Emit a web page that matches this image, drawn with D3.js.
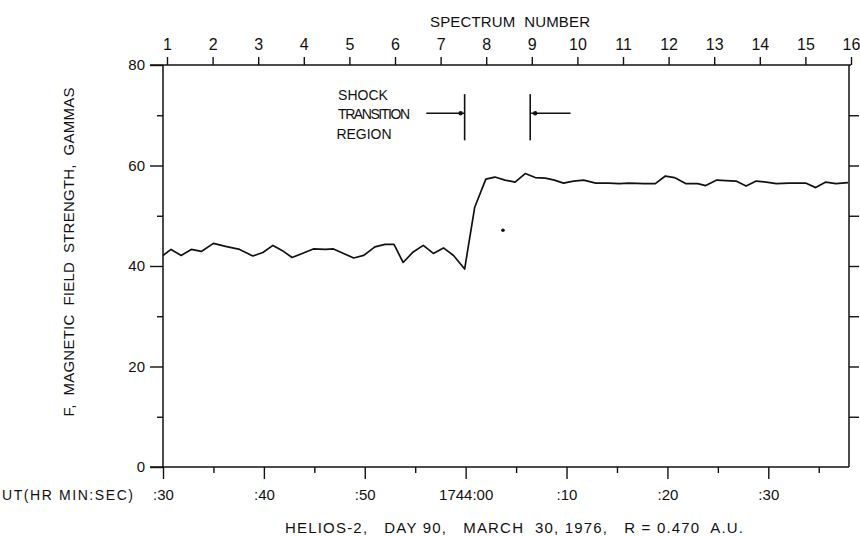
<!DOCTYPE html>
<html>
<head>
<meta charset="utf-8">
<script src="https://cdn.jsdelivr.net/npm/d3@7"></script>
<style>
  body { margin: 0; background: #fff; }
  svg { display: block; }
  text { font-family: "Liberation Sans", Arial, sans-serif; fill: #111; white-space: pre; }
</style>
</head>
<body>
<div id="chart"></div>
<script>
// seconds relative to 1744:00 UT
var times = [-30.0, -29.2, -28.2, -27.2, -26.2, -25.0, -23.8, -22.4, -21.1, -20.1,
  -19.1, -18.2, -17.2, -16.2, -15.1, -13.9, -13.1, -12.1, -11.1, -10.1,
  -9.0, -8.0, -7.1, -6.2, -5.2, -4.2, -3.2, -2.2, -1.2, -0.1,
  0.9, 2.0, 2.9, 3.9, 4.9, 5.9, 6.9, 7.9, 8.8, 9.7,
  10.7, 11.7, 12.9, 14.2, 15.2, 16.2, 17.7, 18.8, 19.8, 20.7,
  21.8, 23.0, 23.8, 24.9, 25.8, 26.8, 27.8, 28.8, 29.8, 30.8,
  32.1, 33.7, 34.7, 35.7, 36.7, 37.9];
// field strength, gammas
var field = [42.1, 43.3, 42.1, 43.3, 42.9, 44.5, 43.9, 43.3, 42.0, 42.7,
  44.1, 43.1, 41.7, 42.5, 43.4, 43.3, 43.4, 42.5, 41.6, 42.1,
  43.8, 44.3, 44.3, 40.7, 42.8, 44.1, 42.5, 43.6, 42.1, 39.4,
  51.7, 57.3, 57.7, 57.1, 56.7, 58.4, 57.6, 57.5, 57.1, 56.5,
  56.9, 57.1, 56.5, 56.5, 56.4, 56.5, 56.4, 56.4, 57.9, 57.6,
  56.4, 56.4, 56.0, 57.1, 57.0, 56.9, 55.9, 56.9, 56.7, 56.4,
  56.5, 56.5, 55.6, 56.7, 56.4, 56.6];

// lone point below the jump
var strayPoint = [3.7, 47.1];

// shock transition region boundaries (seconds) and arrow tails
var shockStart = -0.1, shockEnd = 6.4;
var arrowTails = [-3.9, 10.4];
var arrowLevel = 70.4, barTop = 74.2, barBottom = 65.0;

var yTicks = [0, 20, 40, 60, 80];
var yMinor = [10, 30, 50, 70];
var timeTicks = [-30, -20, -10, 0, 10, 20, 30];
var timeLabels = [":30", ":40", ":50", "1744:00", ":10", ":20", ":30"];
var timeMinor = [-25, -15, -5, 5, 15, 25, 35];
var spectra = d3.range(1, 17);

var width = 860, height = 536;
var svg = d3.select("#chart").append("svg")
    .attr("width", width)
    .attr("height", height);

var x = d3.scaleLinear().domain([-30, 38]).range([163, 849]);
var y = d3.scaleLinear().domain([0, 80]).range([467, 65]);
var spec = d3.scaleLinear().domain([1, 16]).range([167, 851]);

var ink = "#111";

function frameLine(x1, y1, x2, y2) {
    svg.append("line")
        .attr("x1", x1).attr("y1", y1).attr("x2", x2).attr("y2", y2)
        .attr("stroke", ink).attr("stroke-width", 1.5);
}

// frame
frameLine(x(-30), y(0), x(-30), y(80));
frameLine(x(38), y(0), x(38), y(80));
frameLine(150, y(0), x(38), y(0));
frameLine(150, y(80), spec(16), y(80));

function styleAxis(g) {
    g.select(".domain").remove();
    g.selectAll(".tick line").attr("stroke", ink).attr("stroke-width", 1.4);
    g.selectAll(".tick text").attr("fill", ink).style("font-family", "Liberation Sans, Arial, sans-serif");
}

// left axis
svg.append("g")
    .attr("transform", "translate(" + x(-30) + ",0)")
    .call(d3.axisLeft(y).tickValues(yTicks).tickSize(13).tickPadding(5))
    .call(styleAxis)
    .selectAll(".tick text").style("font-size", "15px");
svg.append("g")
    .attr("transform", "translate(" + x(-30) + ",0)")
    .call(d3.axisLeft(y).tickValues(yMinor).tickSize(6).tickFormat(""))
    .call(styleAxis);

// right axis ticks
svg.append("g")
    .attr("transform", "translate(" + x(38) + ",0)")
    .call(d3.axisRight(y).tickValues(yMinor.concat([20, 40, 60])).tickSize(10).tickFormat(""))
    .call(styleAxis);

// bottom time axis
svg.append("g")
    .attr("transform", "translate(0," + y(0) + ")")
    .call(d3.axisBottom(x).tickValues(timeTicks).tickSize(12).tickPadding(10)
        .tickFormat(function(d, i) { return timeLabels[i]; }))
    .call(styleAxis)
    .selectAll(".tick text").style("font-size", "15px");
svg.append("g")
    .attr("transform", "translate(0," + y(0) + ")")
    .call(d3.axisBottom(x).tickValues(timeMinor).tickSize(6).tickFormat(""))
    .call(styleAxis);

// top spectrum axis
svg.append("g")
    .attr("transform", "translate(0," + y(80) + ")")
    .call(d3.axisTop(spec).tickValues(spectra).tickSize(8).tickPadding(7))
    .call(styleAxis)
    .selectAll(".tick text").style("font-size", "16px");

// data line
var pts = times.map(function(t, i) { return [t, field[i]]; });
svg.append("path")
    .datum(pts)
    .attr("fill", "none")
    .attr("stroke", ink)
    .attr("stroke-width", 1.7)
    .attr("stroke-linejoin", "round")
    .attr("d", d3.line().x(function(d) { return x(d[0]); }).y(function(d) { return y(d[1]); }));

svg.append("circle")
    .attr("cx", x(strayPoint[0])).attr("cy", y(strayPoint[1]))
    .attr("r", 1.8).attr("fill", ink);

// shock transition markers
[shockStart, shockEnd].forEach(function(t, i) {
    svg.append("line")
        .attr("x1", x(t)).attr("x2", x(t))
        .attr("y1", y(barTop)).attr("y2", y(barBottom))
        .attr("stroke", ink).attr("stroke-width", 1.6);
    svg.append("line")
        .attr("x1", x(arrowTails[i])).attr("x2", x(t))
        .attr("y1", y(arrowLevel)).attr("y2", y(arrowLevel))
        .attr("stroke", ink).attr("stroke-width", 1.3);
    svg.append("circle")
        .attr("cx", x(t) + (i === 0 ? -4 : 5)).attr("cy", y(arrowLevel))
        .attr("r", 2.2).attr("fill", ink);
});

var note = svg.append("g").style("font-size", "14px");
note.append("text").attr("x", 363).attr("y", 100).attr("text-anchor", "middle").text("SHOCK");
note.append("text").attr("x", 338).attr("y", 119).attr("textLength", 72).text("TRANSITION");
note.append("text").attr("x", 364).attr("y", 139).attr("text-anchor", "middle").text("REGION");

// titles
svg.append("text")
    .attr("x", 430).attr("y", 27)
    .attr("textLength", 160)
    .style("font-size", "15px")
    .text("SPECTRUM  NUMBER");

svg.append("text")
    .attr("transform", "translate(74,252) rotate(-90)")
    .attr("text-anchor", "middle")
    .attr("textLength", 329)
    .style("font-size", "15px")
    .text("F,  MAGNETIC  FIELD  STRENGTH,  GAMMAS");

svg.append("text")
    .attr("x", 2).attr("y", 500)
    .attr("textLength", 131)
    .style("font-size", "14px")
    .text("UT(HR MIN:SEC)");

svg.append("text")
    .attr("x", 285).attr("y", 533)
    .attr("textLength", 458)
    .style("font-size", "15px")
    .text("HELIOS-2,   DAY 90,   MARCH  30, 1976,   R = 0.470  A.U.");
</script>
</body>
</html>
